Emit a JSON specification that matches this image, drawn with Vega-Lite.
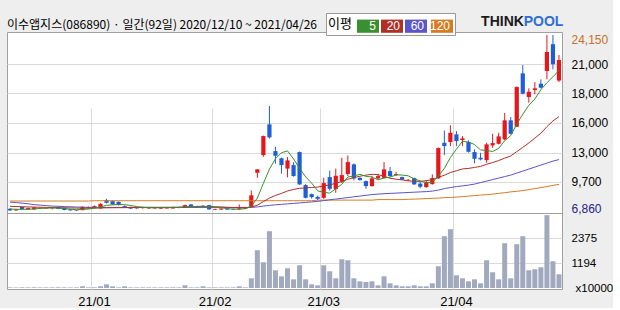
{
  "$schema": "https://vega.github.io/schema/vega-lite/v6.json",
  "width": 555,
  "height": 257,
  "padding": {"left": 7, "top": 12, "right": 0, "bottom": 0},
  "background": "#eeeeee",
  "config": {
    "view": {"stroke": "#a0a0a0", "fill": "#ffffff", "strokeWidth": 1},
    "font": "Liberation Sans",
    "axis": {"labelFont": "Liberation Sans", "labelColor": "#000000", "domain": false, "ticks": false, "tickSize": 0, "gridColor": "#d9d9d9", "gridWidth": 1}
  },
  "title": {
    "text": "이수앱지스(086890) · 일간(92일) 2020/12/10 ~ 2021/04/26",
    "anchor": "start",
    "frame": "group",
    "font": "Noto Sans CJK KR",
    "fontSize": 12,
    "fontWeight": "normal",
    "color": "#000000",
    "baseline": "bottom",
    "offset": -31
  },
  "data": {
    "values": [
      {"d":"2020-12-10","o":7075,"h":7144,"l":6889,"c":6918,"v":30,"m5":7050,"m20":7320,"m60":7734,"m120":7840},
      {"d":"2020-12-11","o":6918,"h":7065,"l":6889,"c":7016,"v":28,"m5":7030,"m20":7300,"m60":7685,"m120":7840},
      {"d":"2020-12-14","o":7242,"h":7291,"l":6997,"c":7046,"v":32,"m5":7020,"m20":7280,"m60":7635,"m120":7840},
      {"d":"2020-12-15","o":6997,"h":7190,"l":6960,"c":7144,"v":30,"m5":7030,"m20":7260,"m60":7567,"m120":7840},
      {"d":"2020-12-16","o":7016,"h":7260,"l":6990,"c":7212,"v":34,"m5":7067,"m20":7245,"m60":7488,"m120":7840},
      {"d":"2020-12-17","o":7114,"h":7210,"l":7090,"c":7163,"v":28,"m5":7116,"m20":7230,"m60":7439,"m120":7840},
      {"d":"2020-12-18","o":7095,"h":7190,"l":7060,"c":7144,"v":30,"m5":7142,"m20":7215,"m60":7390,"m120":7840},
      {"d":"2020-12-21","o":7110,"h":7190,"l":7020,"c":7120,"v":30,"m5":7157,"m20":7200,"m60":7341,"m120":7840},
      {"d":"2020-12-22","o":7242,"h":7280,"l":7050,"c":7075,"v":32,"m5":7143,"m20":7185,"m60":7321,"m120":7840},
      {"d":"2020-12-23","o":7173,"h":7200,"l":6930,"c":6947,"v":30,"m5":7090,"m20":7170,"m60":7291,"m120":7840},
      {"d":"2020-12-24","o":7016,"h":7060,"l":6890,"c":6918,"v":28,"m5":7041,"m20":7160,"m60":7272,"m120":7840},
      {"d":"2020-12-28","o":6918,"h":6960,"l":6860,"c":6870,"v":30,"m5":6986,"m20":7145,"m60":7250,"m120":7840},
      {"d":"2020-12-29","o":6947,"h":7310,"l":6920,"c":7272,"v":80,"m5":7016,"m20":7140,"m60":7235,"m120":7840},
      {"d":"2020-12-30","o":7144,"h":7290,"l":7100,"c":7242,"v":30,"m5":7050,"m20":7140,"m60":7225,"m120":7840},
      {"d":"2021-01-04","o":7193,"h":7400,"l":7150,"c":7340,"v":34,"m5":7128,"m20":7150,"m60":7215,"m120":7870},
      {"d":"2021-01-05","o":7115,"h":7620,"l":7080,"c":7567,"v":80,"m5":7258,"m20":7160,"m60":7213,"m120":7870},
      {"d":"2021-01-06","o":7930,"h":8060,"l":7600,"c":7665,"v":176,"m5":7417,"m20":7175,"m60":7213,"m120":7870},
      {"d":"2021-01-07","o":7832,"h":7900,"l":7450,"c":7507,"v":80,"m5":7464,"m20":7180,"m60":7213,"m120":7870},
      {"d":"2021-01-08","o":7763,"h":7800,"l":7400,"c":7439,"v":30,"m5":7504,"m20":7185,"m60":7213,"m120":7870},
      {"d":"2021-01-11","o":7340,"h":7400,"l":7150,"c":7193,"v":80,"m5":7482,"m20":7190,"m60":7213,"m120":7870},
      {"d":"2021-01-12","o":7242,"h":7280,"l":7060,"c":7095,"v":30,"m5":7400,"m20":7199,"m60":7213,"m120":7870},
      {"d":"2021-01-13","o":7115,"h":7250,"l":7080,"c":7212,"v":28,"m5":7289,"m20":7209,"m60":7213,"m120":7870},
      {"d":"2021-01-14","o":7144,"h":7250,"l":7100,"c":7212,"v":30,"m5":7230,"m20":7217,"m60":7213,"m120":7870},
      {"d":"2021-01-15","o":7115,"h":7240,"l":7080,"c":7193,"v":30,"m5":7181,"m20":7219,"m60":7213,"m120":7870},
      {"d":"2021-01-18","o":7115,"h":7220,"l":7090,"c":7173,"v":28,"m5":7177,"m20":7217,"m60":7213,"m120":7870},
      {"d":"2021-01-19","o":7095,"h":7210,"l":7070,"c":7173,"v":30,"m5":7193,"m20":7218,"m60":7213,"m120":7870},
      {"d":"2021-01-20","o":7115,"h":7230,"l":7090,"c":7193,"v":30,"m5":7189,"m20":7220,"m60":7213,"m120":7870},
      {"d":"2021-01-21","o":7115,"h":7290,"l":7090,"c":7242,"v":32,"m5":7195,"m20":7226,"m60":7213,"m120":7870},
      {"d":"2021-01-22","o":7163,"h":7280,"l":7130,"c":7242,"v":30,"m5":7205,"m20":7235,"m60":7213,"m120":7870},
      {"d":"2021-01-25","o":7173,"h":7490,"l":7150,"c":7439,"v":128,"m5":7258,"m20":7259,"m60":7213,"m120":7870},
      {"d":"2021-01-26","o":7507,"h":7550,"l":7240,"c":7272,"v":30,"m5":7278,"m20":7277,"m60":7213,"m120":7870},
      {"d":"2021-01-27","o":7193,"h":7380,"l":7160,"c":7340,"v":30,"m5":7307,"m20":7301,"m60":7213,"m120":7870},
      {"d":"2021-01-28","o":7242,"h":7420,"l":7200,"c":7370,"v":80,"m5":7333,"m20":7305,"m60":7213,"m120":7870},
      {"d":"2021-01-29","o":7439,"h":7470,"l":6990,"c":7016,"v":30,"m5":7287,"m20":7294,"m60":7213,"m120":7870},
      {"d":"2021-02-01","o":6977,"h":7090,"l":6950,"c":7046,"v":30,"m5":7209,"m20":7279,"m60":7213,"m120":7870},
      {"d":"2021-02-02","o":6997,"h":7130,"l":6970,"c":7095,"v":30,"m5":7173,"m20":7256,"m60":7213,"m120":7870},
      {"d":"2021-02-03","o":7095,"h":7130,"l":6970,"c":6997,"v":28,"m5":7105,"m20":7222,"m60":7213,"m120":7870},
      {"d":"2021-02-04","o":7075,"h":7110,"l":6990,"c":7016,"v":30,"m5":7034,"m20":7198,"m60":7213,"m120":7870},
      {"d":"2021-02-05","o":7016,"h":7507,"l":6947,"c":7115,"v":80,"m5":7054,"m20":7182,"m60":7213,"m120":7870},
      {"d":"2021-02-08","o":7095,"h":7250,"l":7060,"c":7193,"v":32,"m5":7083,"m20":7182,"m60":7213,"m120":7870},
      {"d":"2021-02-09","o":7291,"h":8884,"l":7242,"c":8402,"v":464,"m5":7345,"m20":7247,"m60":7213,"m120":7870},
      {"d":"2021-02-10","o":10614,"h":10980,"l":10122,"c":10948,"v":1808,"m5":8135,"m20":7434,"m60":7262,"m120":7870},
      {"d":"2021-02-15","o":12354,"h":14270,"l":12187,"c":14222,"v":1232,"m5":9576,"m20":7784,"m60":7341,"m120":7870},
      {"d":"2021-02-16","o":15372,"h":17171,"l":13976,"c":14094,"v":2720,"m5":10972,"m20":8129,"m60":7409,"m120":7870},
      {"d":"2021-02-17","o":12747,"h":13170,"l":11518,"c":12285,"v":848,"m5":11990,"m20":8385,"m60":7468,"m120":7870},
      {"d":"2021-02-18","o":12039,"h":12100,"l":10535,"c":11371,"v":560,"m5":12584,"m20":8595,"m60":7517,"m120":7870},
      {"d":"2021-02-19","o":11027,"h":12157,"l":10171,"c":11833,"v":944,"m5":12761,"m20":8827,"m60":7557,"m120":7870},
      {"d":"2021-02-22","o":11371,"h":11636,"l":10240,"c":10290,"v":416,"m5":11975,"m20":8979,"m60":7606,"m120":7870},
      {"d":"2021-02-23","o":12649,"h":12700,"l":9420,"c":9474,"v":1088,"m5":11051,"m20":9091,"m60":7655,"m120":7870},
      {"d":"2021-02-24","o":9405,"h":9500,"l":8100,"c":8157,"v":416,"m5":10225,"m20":9127,"m60":7704,"m120":7870},
      {"d":"2021-02-25","o":8520,"h":8570,"l":8080,"c":8225,"v":176,"m5":9596,"m20":9174,"m60":7753,"m120":7870},
      {"d":"2021-02-26","o":8245,"h":8372,"l":7911,"c":8058,"v":128,"m5":8841,"m20":9210,"m60":7803,"m120":7930},
      {"d":"2021-03-02","o":8157,"h":10122,"l":8050,"c":9601,"v":1088,"m5":8703,"m20":9322,"m60":7881,"m120":7930},
      {"d":"2021-03-03","o":10191,"h":10830,"l":8860,"c":9041,"v":800,"m5":8616,"m20":9423,"m60":7960,"m120":7930},
      {"d":"2021-03-04","o":9012,"h":11027,"l":8648,"c":10319,"v":464,"m5":9049,"m20":9587,"m60":8029,"m120":7930},
      {"d":"2021-03-05","o":9749,"h":12089,"l":9601,"c":10388,"v":1376,"m5":9481,"m20":9751,"m60":8107,"m120":7930},
      {"d":"2021-03-08","o":10486,"h":12305,"l":10290,"c":11666,"v":1328,"m5":10203,"m20":9985,"m60":8176,"m120":7930},
      {"d":"2021-03-09","o":11440,"h":11538,"l":9867,"c":10063,"v":464,"m5":10295,"m20":10137,"m60":8255,"m120":7930},
      {"d":"2021-03-10","o":10122,"h":10170,"l":9850,"c":9896,"v":320,"m5":10466,"m20":10276,"m60":8324,"m120":7930},
      {"d":"2021-03-11","o":9798,"h":9850,"l":9041,"c":9306,"v":288,"m5":10264,"m20":10382,"m60":8402,"m120":7930},
      {"d":"2021-03-12","o":9306,"h":10290,"l":9250,"c":10063,"v":320,"m5":10199,"m20":10465,"m60":8471,"m120":7930},
      {"d":"2021-03-15","o":10063,"h":10516,"l":9965,"c":10290,"v":128,"m5":9924,"m20":10432,"m60":8520,"m120":7980},
      {"d":"2021-03-16","o":10122,"h":11666,"l":10050,"c":10948,"v":560,"m5":10101,"m20":10268,"m60":8560,"m120":7980},
      {"d":"2021-03-17","o":10781,"h":11174,"l":10240,"c":10290,"v":224,"m5":10179,"m20":10078,"m60":8589,"m120":7980},
      {"d":"2021-03-18","o":10388,"h":10712,"l":10290,"c":10486,"v":128,"m5":10415,"m20":9988,"m60":8619,"m120":7980},
      {"d":"2021-03-19","o":10191,"h":10240,"l":9900,"c":9946,"v":80,"m5":10392,"m20":9917,"m60":8648,"m120":7980},
      {"d":"2021-03-22","o":9867,"h":10000,"l":9800,"c":9920,"v":80,"m5":10318,"m20":9821,"m60":8678,"m120":8009},
      {"d":"2021-03-23","o":10093,"h":10150,"l":9420,"c":9474,"v":128,"m5":10023,"m20":9781,"m60":8707,"m120":8029},
      {"d":"2021-03-24","o":9552,"h":9700,"l":9100,"c":9238,"v":80,"m5":9813,"m20":9769,"m60":8737,"m120":8049},
      {"d":"2021-03-25","o":9208,"h":9867,"l":9140,"c":9631,"v":80,"m5":9642,"m20":9842,"m60":8766,"m120":8078},
      {"d":"2021-03-26","o":9503,"h":10456,"l":9450,"c":10093,"v":224,"m5":9671,"m20":9936,"m60":8815,"m120":8108},
      {"d":"2021-03-29","o":10063,"h":13100,"l":10000,"c":13042,"v":1040,"m5":10296,"m20":10185,"m60":8914,"m120":8127},
      {"d":"2021-03-30","o":13563,"h":14762,"l":12354,"c":13238,"v":2480,"m5":11048,"m20":10367,"m60":9061,"m120":8167},
      {"d":"2021-03-31","o":13632,"h":15274,"l":13238,"c":14546,"v":2816,"m5":12110,"m20":10642,"m60":9160,"m120":8196},
      {"d":"2021-04-01","o":14389,"h":14713,"l":13238,"c":13730,"v":608,"m5":12930,"m20":10813,"m60":9258,"m120":8225},
      {"d":"2021-04-02","o":13828,"h":14222,"l":13238,"c":13995,"v":464,"m5":13710,"m20":10993,"m60":9327,"m120":8275},
      {"d":"2021-04-05","o":13632,"h":13800,"l":12600,"c":12678,"v":320,"m5":13637,"m20":11044,"m60":9405,"m120":8324},
      {"d":"2021-04-06","o":12649,"h":12915,"l":11538,"c":11990,"v":416,"m5":13388,"m20":11140,"m60":9503,"m120":8373},
      {"d":"2021-04-07","o":12089,"h":12580,"l":11833,"c":11931,"v":224,"m5":12865,"m20":11242,"m60":9651,"m120":8422},
      {"d":"2021-04-08","o":11862,"h":13563,"l":11597,"c":13406,"v":1328,"m5":12800,"m20":11447,"m60":9798,"m120":8471},
      {"d":"2021-04-09","o":13307,"h":14448,"l":13072,"c":13534,"v":752,"m5":12708,"m20":11620,"m60":9946,"m120":8520},
      {"d":"2021-04-12","o":13465,"h":14546,"l":13400,"c":14192,"v":416,"m5":13011,"m20":11815,"m60":10093,"m120":8589},
      {"d":"2021-04-13","o":13897,"h":16482,"l":13800,"c":15765,"v":2144,"m5":13766,"m20":12056,"m60":10241,"m120":8658},
      {"d":"2021-04-14","o":15765,"h":16089,"l":14400,"c":14448,"v":464,"m5":14269,"m20":12264,"m60":10388,"m120":8737},
      {"d":"2021-04-15","o":15136,"h":19100,"l":15100,"c":19038,"v":2096,"m5":15395,"m20":12692,"m60":10585,"m120":8796},
      {"d":"2021-04-16","o":20385,"h":21201,"l":18300,"c":18380,"v":2480,"m5":16365,"m20":13113,"m60":10781,"m120":8865},
      {"d":"2021-04-19","o":18055,"h":18910,"l":17495,"c":18576,"v":848,"m5":17241,"m20":13546,"m60":10978,"m120":8963},
      {"d":"2021-04-20","o":18743,"h":19530,"l":18320,"c":18910,"v":896,"m5":17870,"m20":14018,"m60":11174,"m120":9061},
      {"d":"2021-04-21","o":19363,"h":19795,"l":18900,"c":18970,"v":992,"m5":18775,"m20":14505,"m60":11371,"m120":9160},
      {"d":"2021-04-22","o":20611,"h":24150,"l":19795,"c":22479,"v":3488,"m5":19463,"m20":15147,"m60":11567,"m120":9258},
      {"d":"2021-04-23","o":23245,"h":24150,"l":20778,"c":21280,"v":1280,"m5":20043,"m20":15706,"m60":11764,"m120":9376},
      {"d":"2021-04-26","o":19677,"h":22184,"l":19530,"c":21692,"v":656,"m5":20666,"m20":16139,"m60":11911,"m120":9474}
    ]
  },
  "encoding": {
    "x": {
      "field": "d",
      "type": "ordinal",
      "sort": null,
      "scale": {"type": "band", "paddingInner": 0, "paddingOuter": 0},
      "axis": {
        "values": ["2021-01-04", "2021-02-01", "2021-03-02", "2021-04-01"],
        "labelExpr": "substring(datum.value, 2, 4) + '/' + substring(datum.value, 5, 7)",
        "bandPosition": 0,
        "grid": true,
        "labelAngle": 0,
        "labelFontSize": 13,
        "labelPadding": 6,
        "title": "THINK",
        "titleX": 495,
        "titleY": -268,
        "titleFont": "Liberation Sans",
        "titleFontSize": 14,
        "titleFontWeight": "bold",
        "titleColor": "#1a1a1a",
        "titleBaseline": "middle",
        "titleAlign": "center"
      }
    }
  },
  "layer": [
    {
      "layer": [
        {
          "mark": {"type": "rule", "strokeWidth": 1},
          "encoding": {
            "y": {
              "field": "l",
              "type": "quantitative",
              "scale": {"domain": [6664, 24445], "range": [181, 0], "zero": false, "nice": false},
              "axis": {
                "orient": "right",
                "values": [6860, 9739, 12587, 15535, 18423, 21272, 24150],
                "labelExpr": "datum.value == 24150 ? '24,150' : datum.value == 6860 ? '6,860' : datum.value == 21272 ? '21,000' : datum.value == 18423 ? '18,000' : datum.value == 15535 ? '16,000' : datum.value == 12587 ? '13,000' : '9,700'",
                "grid": true,
                "gridColor": {"condition": {"test": "datum.value == 6860 || datum.value == 24150", "value": "transparent"}, "value": "#d9d9d9"},
                "labelColor": {"condition": [{"test": "datum.value == 24150", "value": "#c4702a"}, {"test": "datum.value == 6860", "value": "#23238c"}], "value": "#000000"},
                "labelOffset": {"condition": [{"test": "datum.value == 24150", "value": 4}, {"test": "datum.value == 6860", "value": -3}], "value": 0},
                "labelFontSize": 12,
                "labelPadding": 9,
                "labelOverlap": false,
                "labelFlush": false,
                "title": null
              }
            },
            "y2": {"field": "h"},
            "color": {"condition": {"test": "datum.c >= datum.o", "value": "#e5171d"}, "value": "#1f5fd6"}
          }
        },
        {
          "mark": {"type": "bar", "width": {"band": 0.7}},
          "encoding": {
            "y": {"field": "o", "type": "quantitative", "title": null},
            "y2": {"field": "c"},
            "color": {"condition": {"test": "datum.c >= datum.o", "value": "#e5171d"}, "value": "#1f5fd6"}
          }
        },
        {
          "mark": {"type": "line", "strokeWidth": 1},
          "encoding": {
            "y": {"field": "m120", "type": "quantitative", "title": null},
            "color": {
              "datum": "120",
              "type": "nominal",
              "scale": {"domain": ["5", "20", "60", "120"], "range": ["#3a9030", "#b03028", "#5a55c8", "#d47c22"]},
              "legend": {
                "orient": "none",
                "legendX": 319,
                "legendY": -19,
                "direction": "horizontal",
                "title": "이평",
                "titleOrient": "left",
                "titleFont": "Noto Sans CJK KR",
                "titleFontSize": 13,
                "titleFontWeight": "normal",
                "titleColor": "#000000",
                "titlePadding": 5,
                "padding": 2,
                "fillColor": "#ffffff",
                "strokeColor": "#999999",
                "symbolType": "M-1,-0.6H1V0.6H-1Z",
                "symbolSize": 484,
                "symbolStrokeWidth": 0,
                "columnPadding": 2,
                "labelColor": "#ffffff",
                "labelAlign": "right",
                "labelOffset": -3,
                "labelFont": "Liberation Sans",
                "labelFontSize": 12,
                "encode": {"symbols": {"update": {"fill": {"scale": "color", "field": "value"}, "stroke": {"value": "transparent"}}}}
              }
            }
          }
        },
        {
          "mark": {"type": "line", "strokeWidth": 1},
          "encoding": {
            "y": {"field": "m60", "type": "quantitative", "title": null},
            "color": {"datum": "60", "type": "nominal"}
          }
        },
        {
          "mark": {"type": "line", "strokeWidth": 1},
          "encoding": {
            "y": {"field": "m20", "type": "quantitative", "title": null},
            "color": {"datum": "20", "type": "nominal"}
          }
        },
        {
          "mark": {"type": "line", "strokeWidth": 1},
          "encoding": {
            "y": {"field": "m5", "type": "quantitative", "title": null},
            "color": {"datum": "5", "type": "nominal"}
          }
        }
      ]
    },
    {
      "mark": {"type": "bar", "width": {"band": 0.83}, "color": "#a1a9be"},
      "encoding": {
        "y": {
          "field": "v",
          "type": "quantitative",
          "scale": {"domain": [0, 3590], "range": [256, 181], "nice": false},
          "axis": {
            "orient": "right",
            "values": [0, 1194, 2375, 3590],
            "labelExpr": "datum.value == 0 ? 'x10000' : datum.value > 3000 ? '' : '' + datum.value",
            "grid": true,
            "gridColor": {"condition": [{"test": "datum.value == 0", "value": "transparent"}, {"test": "datum.value > 3000", "value": "#a0a0a0"}], "value": "#d9d9d9"},
            "labelFontSize": 11.5,
            "labelPadding": {"condition": {"test": "datum.value == 0", "value": 13}, "value": 9},
            "labelOverlap": false,
            "labelFlush": false,
            "title": "POOL",
            "titleAngle": 0,
            "titleX": -19,
            "titleY": -11,
            "titleColor": "#2f6fd5",
            "titleFont": "Liberation Sans",
            "titleFontSize": 14,
            "titleFontWeight": "bold",
            "titleBaseline": "middle",
            "titleAlign": "center"
          }
        }
      }
    }
  ],
  "resolve": {"scale": {"y": "independent"}, "axis": {"y": "independent"}}
}
